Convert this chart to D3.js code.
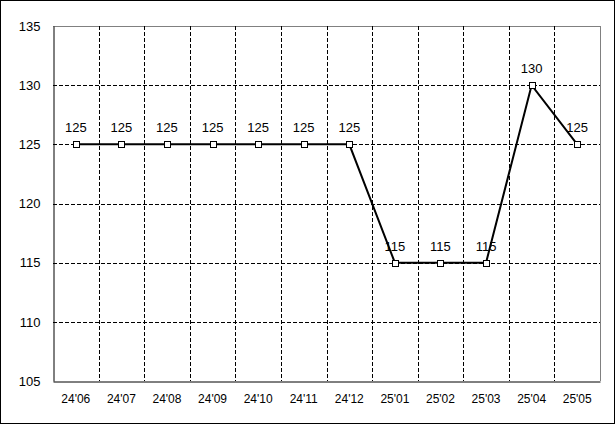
<!DOCTYPE html>
<html><head><meta charset="utf-8">
<script src="https://cdn.jsdelivr.net/npm/d3@7"></script>
<style>body{margin:0;background:#fff}svg{display:block}</style>
</head><body>
<script>
const categories = ["24'06","24'07","24'08","24'09","24'10","24'11","24'12","25'01","25'02","25'03","25'04","25'05"];
const values = [125,125,125,125,125,125,125,115,115,115,130,125];
const yTicks = [105,110,115,120,125,130,135];

const W = 615, H = 424;
const m = {left:53, top:26, right:600, bottom:381};
const font = "'Liberation Sans', Arial, sans-serif";

const svg = d3.select("body").append("svg").attr("width", W).attr("height", H);
svg.append("rect").attr("x",0.5).attr("y",0.5).attr("width",W-1).attr("height",H-1)
  .attr("fill","#fff").attr("stroke","#000");

const x = d3.scaleBand().domain(categories).range([m.left, m.right]);
const y = d3.scaleLinear().domain([105,135]).range([m.bottom, m.top]);

// top & right border (gray)
svg.append("line").attr("x1",m.left).attr("x2",m.right).attr("y1",m.top+0.5).attr("y2",m.top+0.5).attr("stroke","#808080");
svg.append("line").attr("x1",m.right+0.5).attr("x2",m.right+0.5).attr("y1",m.top).attr("y2",m.bottom).attr("stroke","#808080");

// horizontal grid
svg.append("g").selectAll("line").data(yTicks.filter(t=>t>105 && t<135)).join("line")
  .attr("x1",m.left).attr("x2",m.right)
  .attr("y1",d=>Math.round(y(d))+0.5).attr("y2",d=>Math.round(y(d))+0.5)
  .attr("stroke","#000").attr("stroke-dasharray","4,2");
// vertical grid
svg.append("g").selectAll("line").data(categories.slice(1)).join("line")
  .attr("x1",d=>Math.round(x(d))+0.5).attr("x2",d=>Math.round(x(d))+0.5)
  .attr("y1",m.top).attr("y2",m.bottom)
  .attr("stroke","#000").attr("stroke-dasharray","4,2");

// axes
const yAxis = d3.axisLeft(y).tickValues(yTicks).tickSize(0).tickPadding(13);
const gy = svg.append("g").attr("transform",`translate(${m.left+0.5},0)`).call(yAxis);
gy.select(".domain").attr("stroke","#000");
gy.selectAll("text").attr("font-family",font).attr("font-size",13).attr("fill","#000");

const xAxis = d3.axisBottom(x).tickSize(0).tickPadding(13);
const gx = svg.append("g").attr("transform",`translate(0,${m.bottom+0.5})`).call(xAxis);
gx.select(".domain").attr("stroke","#000");
gx.selectAll("text").attr("font-family",font).attr("font-size",12).attr("fill","#000");

// line
const cx = d => x(d) + x.bandwidth()/2;
const line = d3.line().x((d,i)=>cx(categories[i])).y(d=>y(d));
svg.append("path").datum(values).attr("d",line).attr("fill","none").attr("stroke","#000").attr("stroke-width",2);

// markers
svg.append("g").selectAll("rect").data(values).join("rect")
  .attr("x",(d,i)=>Math.round(cx(categories[i]))-3+0.5).attr("y",d=>Math.round(y(d))-3+0.5)
  .attr("width",6).attr("height",6).attr("fill","#fff").attr("stroke","#000");

// labels
svg.append("g").selectAll("text").data(values).join("text")
  .attr("x",(d,i)=>cx(categories[i])).attr("y",d=>y(d)-12)
  .attr("text-anchor","middle").attr("font-family",font).attr("font-size",13).attr("fill","#000")
  .text(d=>d);
</script>
</body></html>
